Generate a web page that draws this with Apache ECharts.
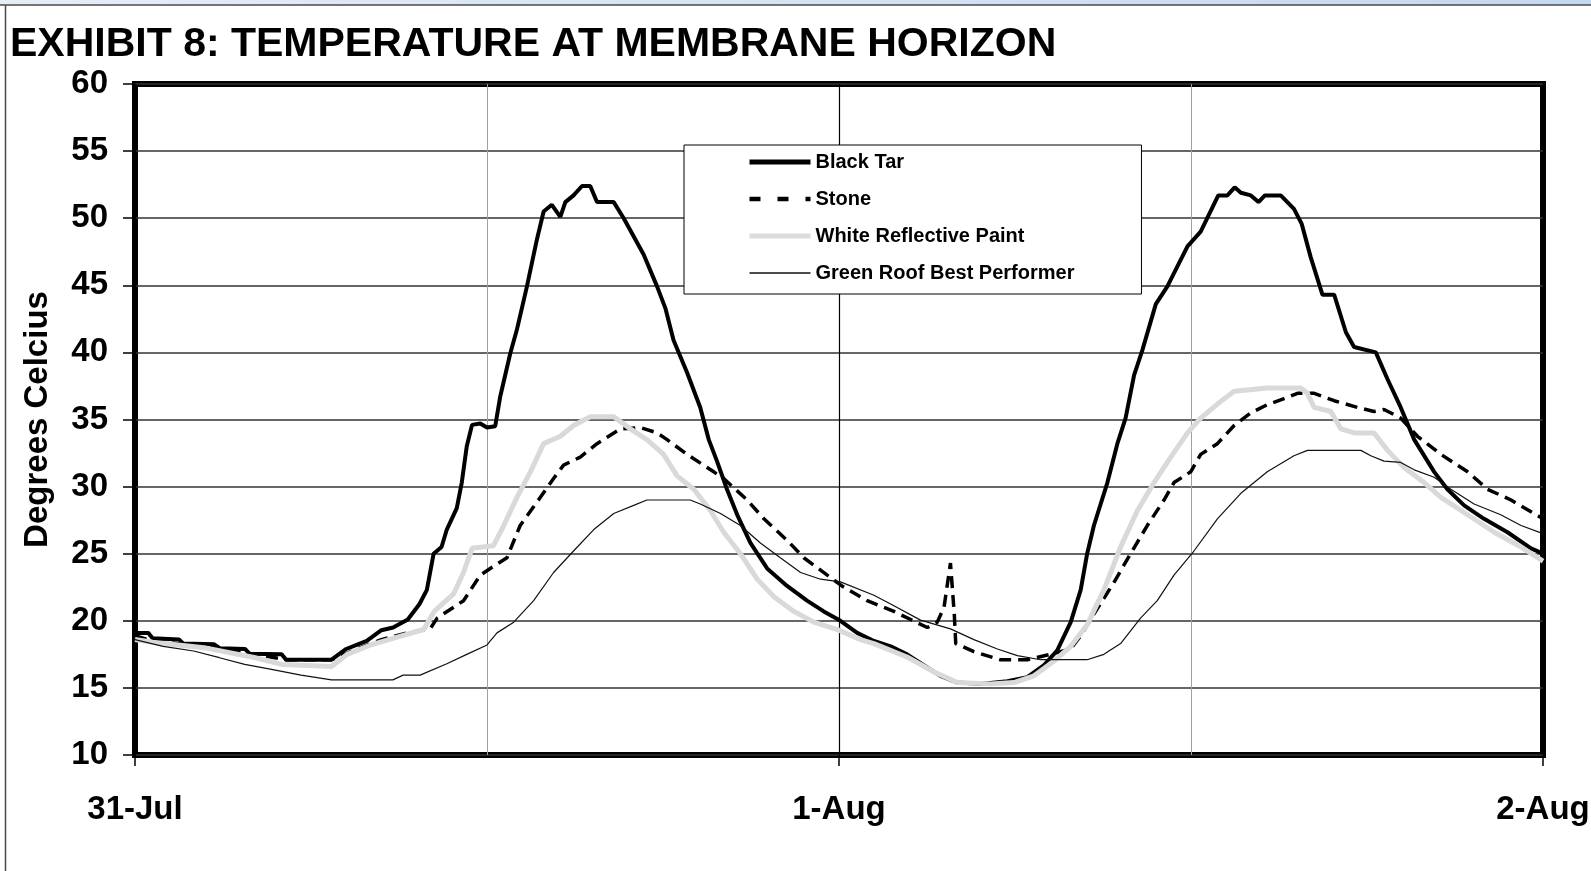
<!DOCTYPE html>
<html><head><meta charset="utf-8">
<script src="https://cdn.jsdelivr.net/npm/echarts@6/dist/echarts.min.js"></script>
<style>html,body{margin:0;padding:0;background:#fff;}#chart{width:1591px;height:871px;}</style>
</head><body><div id="chart"></div>
<script>
// ---- data (hours since 31-Jul 00:00, degrees C) ----
const titleText = 'EXHIBIT 8: TEMPERATURE AT MEMBRANE HORIZON';
const yAxisName = 'Degrees Celcius';
const xTickLabels = ['31-Jul', '1-Aug', '2-Aug'];
const hoursPerTick = 24;
const yMin = 10, yMax = 60, yStep = 5;
const seriesNames = ['Black Tar', 'Stone', 'White Reflective Paint', 'Green Roof Best Performer'];

const blackTar = [[0,19.1],[0.45,19.1],[0.6,18.7],[1.5,18.6],[1.65,18.3],[2.7,18.25],[2.9,17.95],[3.75,17.9],[3.9,17.55],[5.0,17.5],[5.15,17.1],[6.7,17.1],[7.2,17.9],[7.6,18.25],[7.9,18.5],[8.4,19.3],[8.8,19.5],[9.3,20.1],[9.7,21.25],[9.95,22.3],[10.18,25.0],[10.45,25.5],[10.63,26.8],[10.97,28.4],[11.14,30.3],[11.31,33.0],[11.49,34.6],[11.77,34.7],[12.0,34.4],[12.28,34.5],[12.45,36.7],[12.79,39.9],[13.02,41.7],[13.36,44.9],[13.7,48.4],[13.93,50.5],[14.21,51.0],[14.5,50.1],[14.67,51.2],[14.95,51.7],[15.24,52.4],[15.52,52.4],[15.75,51.2],[16.32,51.2],[16.66,50.0],[17.34,47.3],[17.8,44.9],[18.08,43.3],[18.36,40.9],[18.82,38.5],[19.27,35.9],[19.56,33.5],[19.84,31.9],[20.18,29.8],[20.53,27.9],[20.98,25.8],[21.55,23.9],[22.23,22.6],[22.91,21.5],[23.48,20.7],[24.05,20.0],[24.62,19.1],[25.19,18.5],[25.76,18.1],[26.32,17.5],[26.89,16.7],[27.46,15.9],[28.03,15.4],[28.83,15.3],[29.74,15.5],[30.42,15.8],[30.99,16.7],[31.44,17.8],[31.9,19.9],[32.24,22.3],[32.46,25.0],[32.69,27.1],[33.15,30.3],[33.49,33.2],[33.77,35.1],[34.06,38.3],[34.34,40.15],[34.8,43.6],[35.19,44.9],[35.88,47.9],[36.33,49.0],[36.93,51.7],[37.24,51.7],[37.49,52.3],[37.7,51.9],[38.04,51.7],[38.3,51.2],[38.52,51.7],[39.06,51.7],[39.51,50.7],[39.77,49.6],[40.08,47.1],[40.48,44.3],[40.88,44.3],[41.28,41.5],[41.56,40.4],[42.3,40.0],[42.7,38.0],[43.15,35.9],[43.61,33.5],[44.29,31.1],[44.74,29.8],[45.31,28.6],[45.99,27.6],[46.79,26.6],[47.59,25.4],[48,25.0]];

const stone = [[0,18.9],[0.6,18.5],[2.35,18.1],[4.1,17.5],[5.15,17.1],[6.7,17.1],[7.57,17.9],[8.4,18.6],[9.3,19.1],[10.06,19.4],[10.3,20.2],[11.2,21.5],[11.77,23.4],[12.11,23.9],[12.68,24.7],[13.13,27.1],[13.82,29.2],[14.27,30.6],[14.61,31.6],[15.18,32.2],[15.75,33.2],[16.55,34.3],[17.23,34.4],[17.8,34.0],[18.14,33.5],[18.82,32.4],[19.73,31.1],[20.07,30.6],[20.87,29.0],[21.44,27.6],[22.23,26.0],[22.8,24.7],[23.6,23.4],[24.1,22.6],[24.96,21.5],[25.87,20.7],[27.01,19.5],[27.35,19.9],[27.58,21.0],[27.8,24.3],[27.93,20.5],[27.98,18.3],[28.6,17.7],[29.5,17.1],[30.42,17.1],[31.21,17.5],[31.9,17.9],[32.24,18.9],[32.69,20.5],[33.37,22.85],[33.94,25.0],[34.51,27.1],[35.08,29.0],[35.42,30.3],[35.99,31.1],[36.33,32.4],[36.9,33.2],[37.47,34.55],[38.04,35.5],[38.6,36.1],[39.17,36.55],[39.63,36.95],[40.2,36.95],[40.88,36.4],[41.68,35.9],[42.24,35.6],[42.58,35.75],[43.15,35.1],[43.72,33.75],[44.52,32.4],[45.43,31.1],[46.11,29.8],[46.91,29.0],[48,27.6]];

const whitePaint = [[0,18.6],[0.6,18.4],[2.35,18.0],[4.1,17.25],[5.0,16.75],[6.7,16.6],[7.23,17.5],[8.1,18.25],[8.97,18.8],[9.84,19.35],[10.2,20.7],[10.86,22.0],[11.2,23.6],[11.49,25.4],[12.22,25.6],[12.57,27.1],[13.02,29.2],[13.48,31.1],[13.93,33.2],[14.5,33.75],[14.95,34.55],[15.52,35.2],[16.32,35.2],[16.89,34.3],[17.45,33.5],[18.02,32.4],[18.48,30.8],[19.05,29.8],[19.62,28.2],[20.07,26.6],[20.64,25.0],[21.21,23.1],[21.78,21.8],[22.46,20.7],[23.14,19.9],[24.0,19.3],[24.73,18.6],[25.19,18.3],[26.32,17.3],[27.23,16.2],[28.03,15.4],[29.17,15.3],[29.96,15.4],[30.65,15.9],[31.33,17.0],[31.9,18.1],[32.46,19.7],[33.03,22.3],[33.6,25.5],[34.17,28.2],[34.74,30.3],[35.31,32.2],[35.88,34.0],[36.33,35.1],[36.9,36.15],[37.47,37.1],[38.6,37.35],[39.74,37.35],[39.95,37.0],[40.2,35.9],[40.77,35.6],[41.11,34.3],[41.56,34.0],[42.24,34.0],[42.7,32.7],[43.27,31.4],[43.95,30.3],[44.52,29.2],[45.43,27.9],[46.34,26.6],[47.25,25.5],[48,24.45]];

const greenRoof = [[0,18.6],[0.96,18.1],[2.0,17.75],[2.88,17.25],[3.74,16.75],[4.61,16.4],[5.66,15.95],[6.7,15.6],[8.79,15.6],[9.14,15.95],[9.72,15.95],[10.63,16.8],[11.31,17.5],[12.0,18.2],[12.34,19.1],[12.91,19.9],[13.59,21.5],[14.27,23.6],[14.95,25.2],[15.64,26.8],[16.32,28.0],[17.0,28.6],[17.45,29.0],[18.93,29.0],[19.27,28.7],[19.96,28.0],[20.64,27.1],[21.32,25.8],[22.0,24.7],[22.69,23.6],[23.37,23.1],[24.05,22.9],[25.19,21.9],[25.76,21.25],[26.78,20.05],[27.8,19.4],[28.6,18.6],[29.4,17.9],[30.08,17.4],[30.87,17.1],[32.46,17.1],[33.03,17.5],[33.6,18.3],[34.28,20.2],[34.85,21.5],[35.42,23.4],[36.1,25.2],[36.9,27.6],[37.7,29.5],[38.6,31.1],[39.51,32.3],[39.97,32.7],[41.79,32.7],[42.13,32.3],[42.58,31.9],[43.15,31.8],[43.61,31.25],[44.29,30.7],[44.86,29.8],[45.65,28.7],[46.56,27.9],[47.25,27.1],[48,26.5]];

const seriesData = [blackTar, stone, whitePaint, greenRoof];

// ---- styles ----
const FONT = "'Liberation Sans', Arial, Helvetica, sans-serif";
const lineStyles = [
  { color: '#000000', width: 4, type: 'solid' },
  { color: '#000000', width: 3.5, type: [12, 7] },
  { color: '#d9d9d9', width: 5, type: 'solid' },
  { color: '#111111', width: 1.2, type: 'solid' }
];
const legendLineStyles = [
  { color: '#000000', width: 5, type: 'solid' },
  { color: '#000000', width: 4.5, type: [11, 17] },
  { color: '#dcdcdc', width: 5, type: 'solid' },
  { color: '#111111', width: 1.3, type: 'solid' }
];

const chart = echarts.init(document.getElementById('chart'), null, { renderer: 'canvas' });
chart.setOption({
  animation: false,
  backgroundColor: '#ffffff',
  textStyle: { fontFamily: FONT },
  graphic: [
    { type: 'rect', silent: true, z: -10, shape: { x: 0, y: 0, width: 1591, height: 5 },
      style: { fill: new echarts.graphic.LinearGradient(0, 0, 1, 0, [
        { offset: 0, color: '#e6edf7' }, { offset: 1, color: '#c4d8ef' }]) } },
    { type: 'line', silent: true, z: -9, shape: { x1: 0, y1: 5, x2: 1591, y2: 5 },
      style: { stroke: '#4a4a4a', lineWidth: 1.5 } },
    { type: 'line', silent: true, z: -9, shape: { x1: 5.5, y1: 5, x2: 5.5, y2: 871 },
      style: { stroke: '#4a4a4a', lineWidth: 1.5 } }
  ],
  title: {
    text: titleText,
    left: 10, top: 24, padding: 0,
    textStyle: { fontFamily: FONT, fontSize: 41, fontWeight: 'bold', color: '#000' }
  },
  legend: {
    orient: 'vertical', left: 684, top: 145,
    padding: [7, 67, 11, 63],
    itemWidth: 61, itemHeight: 14, itemGap: 17,
    backgroundColor: '#ffffff', borderColor: '#000', borderWidth: 1,
    selectedMode: false,
    itemStyle: { opacity: 0 },
    textStyle: { fontFamily: FONT, fontSize: 20, fontWeight: 'bold', color: '#000' },
    data: seriesNames.map((n, i) => ({ name: n, lineStyle: legendLineStyles[i], itemStyle: { opacity: 0 } }))
  },
  grid: {
    left: 135, right: 48, top: 84, bottom: 116,
    containLabel: false, outerBoundsMode: 'none',
    show: true, borderColor: '#000', borderWidth: 6, backgroundColor: 'transparent'
  },
  xAxis: {
    type: 'value', min: 0, max: hoursPerTick * (xTickLabels.length - 1), interval: hoursPerTick,
    axisLine: { show: false },
    axisTick: { show: true, length: 11, lineStyle: { color: '#000', width: 1.5 } },
    axisLabel: {
      margin: 38, color: '#000', fontFamily: FONT, fontSize: 33, fontWeight: 'bold',
      formatter: v => xTickLabels[Math.round(v / hoursPerTick)] || ''
    },
    splitLine: { show: true, lineStyle: { color: '#000', width: 1.2 } },
    minorTick: { show: false, splitNumber: 2 },
    minorSplitLine: { show: true, lineStyle: { color: '#a0a0a0', width: 1 } }
  },
  yAxis: {
    type: 'value', min: yMin, max: yMax, interval: yStep,
    name: yAxisName, nameLocation: 'middle', nameGap: 81, nameRotate: 90,
    nameTextStyle: { fontFamily: FONT, fontSize: 33, fontWeight: 'bold', color: '#000' },
    axisLine: { show: false },
    axisTick: { show: true, length: 12, lineStyle: { color: '#000', width: 1.5 } },
    axisLabel: { margin: 27, color: '#000', fontFamily: FONT, fontSize: 33, fontWeight: 'bold' },
    splitLine: { show: true, lineStyle: { color: '#333', width: 1.5 } }
  },
  series: seriesNames.map((name, i) => ({
    name: name,
    type: 'line',
    data: seriesData[i],
    symbol: 'none',
    showSymbol: false,
    smooth: false,
    clip: true,
    lineStyle: lineStyles[i],
    itemStyle: { color: lineStyles[i].color },
    emphasis: { disabled: true }
  }))
});
</script></body></html>
